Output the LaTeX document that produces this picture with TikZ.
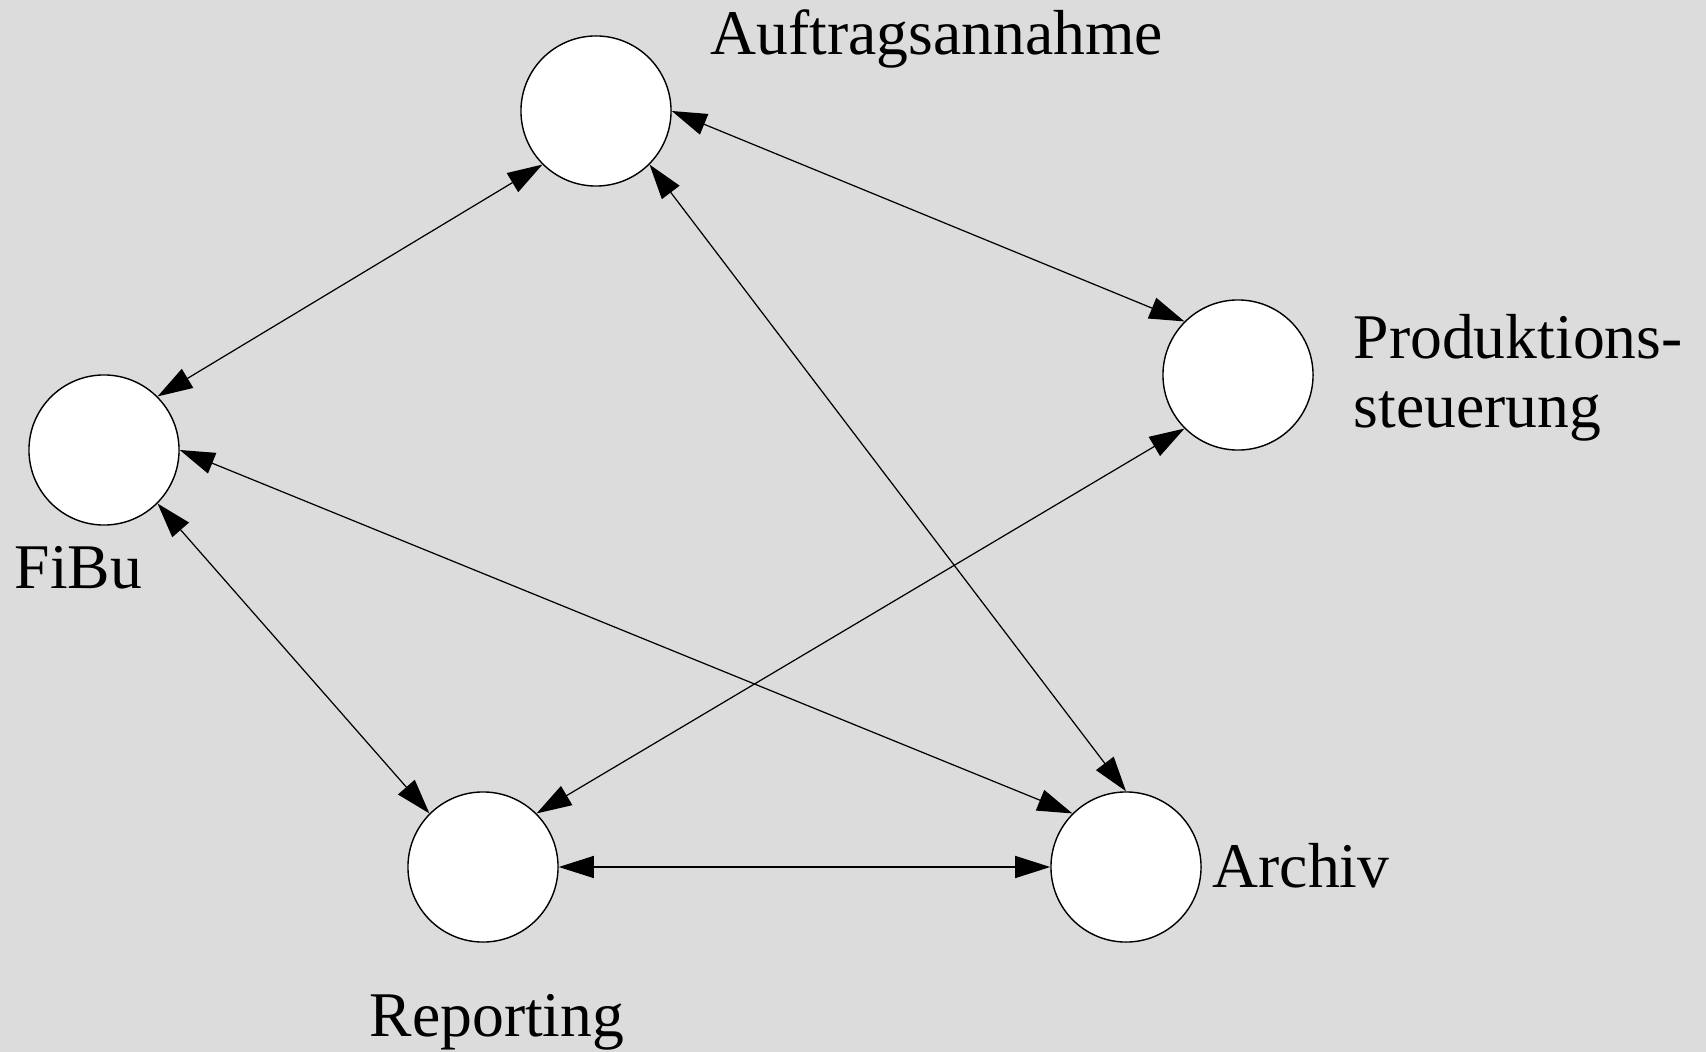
\documentclass[tikz,border=0pt]{standalone}
\usepackage{fontspec}
\setmainfont{Liberation Serif}
\usetikzlibrary{arrows.meta}
\definecolor{bggray}{RGB}{220,220,220}

\begin{document}
\begin{tikzpicture}[x=0.01cm,y=-0.01cm]
\tikzset{
 sys/.style={circle, draw=black, fill=white, line width=0.4pt, minimum size=1.5cm, inner sep=0},
 lbl/.style={anchor=base west, inner sep=0, font=\fontsize{18.1}{19.9}\selectfont, align=left},
 link/.style={line width=0.35pt, {Triangle[length=0.35cm,width=0.22cm]}-{Triangle[length=0.35cm,width=0.22cm]}}
}
\fill[bggray] (0,0) rectangle (1706,1052);
\useasboundingbox (0,0) rectangle (1706,1052);
\node[sys] (auf) at (596,111) {};
\node[sys] (prod) at (1238,375) {};
\node[sys] (fibu) at (104,450) {};
\node[sys] (rep) at (483,867) {};
\node[sys] (arch) at (1126,867) {};
\node[lbl] (lauf) at (710,55) {Auftragsannahme};
\node[lbl] (lprod) at (1353,428) {Produktions-\\steuerung};
\node[lbl] (lfibu) at (14,588) {FiBu};
\node[lbl] (lrep) at (369,1036) {Reporting};
\node[lbl] (larch) at (1212,887) {Archiv};
\foreach \a/\b in {auf.south west/fibu.north east, auf.east/prod.north west,
  auf.south east/arch.north, fibu.east/arch.north west, fibu.south east/rep.north west,
  prod.south west/rep.north east, rep.east/arch.west} {
 \draw[link] (\a) -- (\b);
}
\end{tikzpicture}
\end{document}
